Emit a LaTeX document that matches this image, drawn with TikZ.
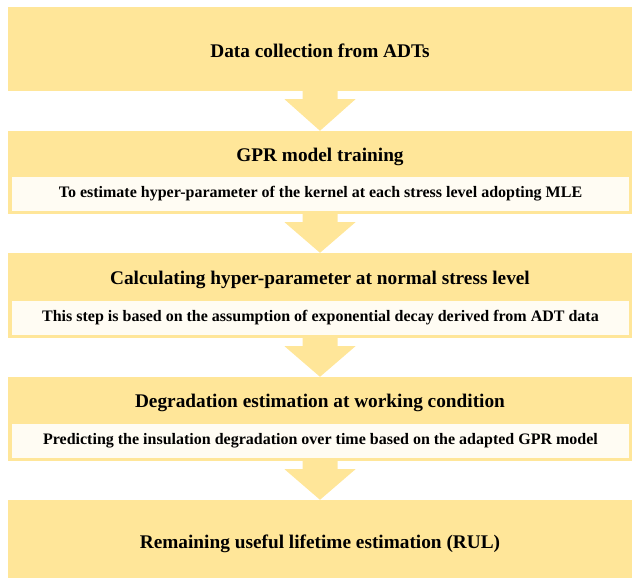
\documentclass[tikz,border=0pt]{standalone}
\usepackage{fontspec}
\setmainfont{Liberation Serif}
\usetikzlibrary{calc}
\definecolor{boxyellow}{HTML}{FFE699}
\definecolor{boxcream}{HTML}{FFFCF3}

\begin{document}
\begin{tikzpicture}[x=1pt,y=-1pt,
  stage/.style={fill=boxyellow, minimum width=624pt, inner sep=0pt},
  heading/.style={font=\fontsize{19.3}{22}\selectfont\bfseries},
  detail/.style={fill=boxcream, minimum width=617pt, minimum height=34pt, inner sep=0pt,
    font=\fontsize{16}{18}\selectfont\bfseries},
  flow/.style={fill=boxyellow}]
\useasboundingbox (0,0) rectangle (632,578);

% Stage 1
\node[stage, minimum height=84pt] (data) at (320,49) {};
\node[heading] (datahead) at (320,50.5) {Data collection from ADTs};

% Stage 2
\node[stage, minimum height=83pt] (train) at (320,172.5) {};
\node[heading] (trainhead) at (320,156.5) {GPR model training};
\node[detail] (traintext) at (320.5,194) {To estimate hyper-parameter of the kernel at each stress level adopting MLE};

% Stage 3
\node[stage, minimum height=85pt] (hyper) at (320,295.5) {};
\node[heading] (hyperhead) at (320,279.5) {Calculating hyper-parameter at normal stress level};
\node[detail] (hypertext) at (320.5,318) {This step is based on the assumption of exponential decay derived from ADT data};

% Stage 4
\node[stage, minimum height=84pt] (degr) at (320,419) {};
\node[heading] (degrhead) at (320,402.5) {Degradation estimation at working condition};
\node[detail] (degrtext) at (320.5,441) {Predicting the insulation degradation over time based on the adapted GPR model};

% Stage 5
\node[stage, minimum height=78pt] (rul) at (320,539) {};
\node[heading] (rulhead) at (320,543.5) {Remaining useful lifetime estimation (RUL)};

% Block arrows
\foreach \a/\b in {data/train, train/hyper, hyper/degr, degr/rul}
  \fill[flow] ($(\a.south)+(-17.5,0)$) -- ($(\a.south)+(17.5,0)$) -- ($(\a.south)+(17.5,8)$)
    -- ($(\a.south)+(35.5,8)$) -- (\b.north) -- ($(\a.south)+(-35.5,8)$)
    -- ($(\a.south)+(-17.5,8)$) -- cycle;

\end{tikzpicture}
\end{document}
